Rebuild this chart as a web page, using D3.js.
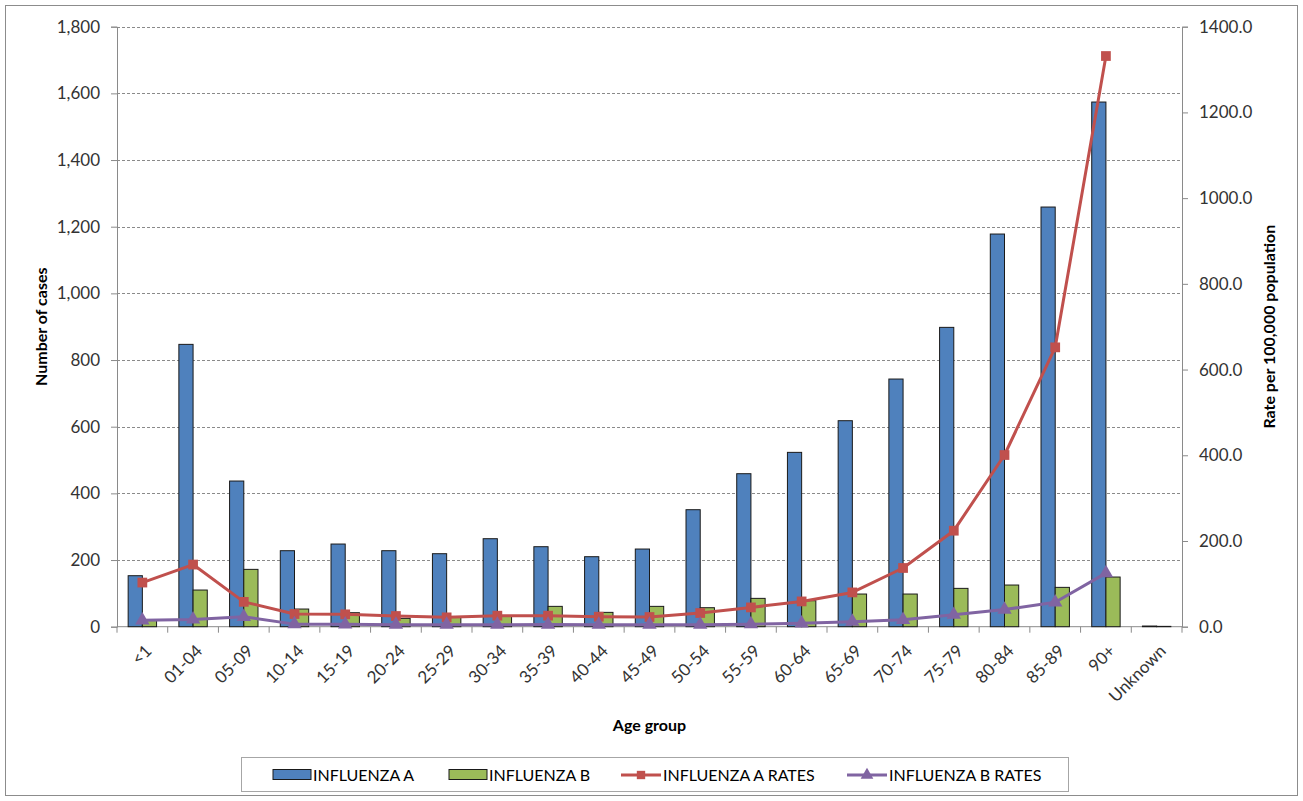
<!DOCTYPE html>
<html>
<head>
<meta charset="utf-8">
<script src="https://cdn.jsdelivr.net/npm/d3@7"></script>
<style>
  body { margin: 0; background: #fff; }
  text { font-family: Lato, "Open Sans", sans-serif; }
</style>
</head>
<body>
<svg id="chart" width="1303" height="801"></svg>
<script>
// Influenza cases and rates per 100,000 by age group
const ageGroups = ["<1","01-04","05-09","10-14","15-19","20-24","25-29","30-34","35-39","40-44",
  "45-49","50-54","55-59","60-64","65-69","70-74","75-79","80-84","85-89","90+","Unknown"];
const influenzaA = [153,847,437,228,248,228,219,264,240,210,233,351,459,523,618,743,898,1178,1259,1574,2];
const influenzaB = [20,110,172,53,42,25,28,33,61,43,61,57,85,78,98,98,115,125,118,149,1];
const influenzaARates = [103,145,58,29.6,28.8,25,21.8,25.7,25.7,23.3,22.6,31.9,45,59,80,137,224,400.6,651.8,1331.6,null];
const influenzaBRates = [15,17,23,6,5.5,4.7,4.7,4.7,5,4.7,4.7,4.7,6,7.8,11.7,16.3,28,40,57,125,null];
const casesTicks = d3.range(0, 1801, 200);
const rateTicks = d3.range(0, 1401, 200);
const seriesNames = ["INFLUENZA A","INFLUENZA B","INFLUENZA A RATES","INFLUENZA B RATES"];

const colors = { A: "#4F81BD", B: "#9BBB59", AR: "#C0504D", BR: "#8064A2" };

const svg = d3.select("#chart");
const W = 1303, H = 801;
const plot = { left: 117, right: 1182, top: 26.7, bottom: 626.7 };

// outer frame
svg.append("rect").attr("x", 5.5).attr("y", 5.5).attr("width", W - 11).attr("height", H - 11)
  .attr("fill", "#fff").attr("stroke", "#8c8c8c").attr("stroke-width", 1);

const x = d3.scaleBand().domain(ageGroups).range([plot.left, plot.right]).padding(0);
const xSub = d3.scaleBand().domain(["A","B"]).range([0, x.bandwidth()]).paddingInner(0).paddingOuter(0.785);
const yL = d3.scaleLinear().domain([0, 1800]).range([plot.bottom, plot.top]);
const yR = d3.scaleLinear().domain([0, 1400]).range([plot.bottom, plot.top]);

// gridlines
svg.append("g").selectAll("line").data(casesTicks.filter(d => d > 0)).join("line")
  .attr("x1", plot.left).attr("x2", plot.right)
  .attr("y1", d => Math.round(yL(d)) + 0.5).attr("y2", d => Math.round(yL(d)) + 0.5)
  .attr("stroke", "#8a8a8a").attr("stroke-width", 1).attr("stroke-dasharray", "3,2");

// left axis
const axL = svg.append("g").attr("transform", `translate(${plot.left},0)`)
  .call(d3.axisLeft(yL).tickValues(casesTicks).tickFormat(d3.format(",")).tickSize(6).tickPadding(11));
// right axis
const axR = svg.append("g").attr("transform", `translate(${plot.right},0)`)
  .call(d3.axisRight(yR).tickValues(rateTicks).tickFormat(d3.format(".1f")).tickSize(6).tickPadding(11));
// bottom axis (ticks at category boundaries)
const axB = svg.append("g").attr("transform", `translate(0,${plot.bottom})`);
axB.append("line").attr("x1", plot.left).attr("x2", plot.right).attr("y1", 0).attr("y2", 0)
  .attr("stroke", "#8a8a8a");
axB.selectAll("line.tk").data(ageGroups.concat(["_end"])).join("line").attr("class", "tk")
  .attr("x1", (d, i) => plot.left + i * x.step()).attr("x2", (d, i) => plot.left + i * x.step())
  .attr("y1", 0).attr("y2", 6).attr("stroke", "#8a8a8a");
axB.selectAll("text").data(ageGroups).join("text")
  .attr("transform", d => `translate(${x(d) + x.bandwidth() / 2 + 2},${17}) rotate(-45)`)
  .attr("text-anchor", "end").attr("dy", "0.7em")
  .attr("font-size", 17).attr("fill", "#333").text(d => d);

[axL, axR].forEach(ax => {
  ax.select(".domain").attr("stroke", "#8a8a8a");
  ax.selectAll(".tick line").attr("stroke", "#8a8a8a");
  ax.selectAll(".tick text").attr("font-size", 17).attr("fill", "#333")
    .style("font-family", "Lato, 'Open Sans', sans-serif");
});

// bars
const groups = svg.append("g").selectAll("g").data(ageGroups).join("g")
  .attr("transform", d => `translate(${x(d)},0)`);
groups.append("rect")
  .attr("x", xSub("A")).attr("width", xSub.bandwidth())
  .attr("y", (d, i) => yL(influenzaA[i])).attr("height", (d, i) => plot.bottom - yL(influenzaA[i]))
  .attr("fill", colors.A).attr("stroke", "#1a1a1a").attr("stroke-width", 1);
groups.append("rect")
  .attr("x", xSub("B")).attr("width", xSub.bandwidth())
  .attr("y", (d, i) => yL(influenzaB[i])).attr("height", (d, i) => plot.bottom - yL(influenzaB[i]))
  .attr("fill", colors.B).attr("stroke", "#1a1a1a").attr("stroke-width", 1);

// rate lines
const cx = d => x(d) + x.bandwidth() / 2;
function rateLine(values, color, marker) {
  const pts = ageGroups.map((g, i) => ({ g, v: values[i] })).filter(p => p.v != null);
  const line = d3.line().x(p => cx(p.g)).y(p => yR(p.v));
  svg.append("path").datum(pts).attr("d", line).attr("fill", "none")
    .attr("stroke", color).attr("stroke-width", 3).attr("stroke-linejoin", "round");
  svg.append("g").selectAll("path").data(pts).join("path")
    .attr("transform", p => `translate(${cx(p.g)},${yR(p.v)})`)
    .attr("d", d3.symbol().type(marker).size(marker === d3.symbolSquare ? 95 : 90)())
    .attr("fill", color);
}
rateLine(influenzaARates, colors.AR, d3.symbolSquare);
rateLine(influenzaBRates, colors.BR, d3.symbolTriangle);

// axis titles
svg.append("text").attr("transform", `translate(47,${(plot.top + plot.bottom) / 2}) rotate(-90)`)
  .attr("text-anchor", "middle").attr("font-size", 16).attr("font-weight", "bold").attr("fill", "#000")
  .text("Number of cases");
svg.append("text").attr("transform", `translate(1275,${(plot.top + plot.bottom) / 2}) rotate(-90)`)
  .attr("text-anchor", "middle").attr("font-size", 16).attr("font-weight", "bold").attr("fill", "#000")
  .text("Rate per 100,000 population");
svg.append("text").attr("x", (plot.left + plot.right) / 2).attr("y", 731)
  .attr("text-anchor", "middle").attr("font-size", 16).attr("font-weight", "bold").attr("fill", "#000")
  .text("Age group");

// legend
const legend = svg.append("g");
legend.append("rect").attr("x", 241.5).attr("y", 757.5).attr("width", 827).attr("height", 34)
  .attr("fill", "#fff").attr("stroke", "#a6a6a6");
const items = [
  { name: seriesNames[0], type: "bar", color: colors.A, sx: 273, tx: 313 },
  { name: seriesNames[1], type: "bar", color: colors.B, sx: 449, tx: 489 },
  { name: seriesNames[2], type: "line", color: colors.AR, sx: 621, tx: 663, marker: d3.symbolSquare },
  { name: seriesNames[3], type: "line", color: colors.BR, sx: 847, tx: 889, marker: d3.symbolTriangle }
];
items.forEach(it => {
  if (it.type === "bar") {
    legend.append("rect").attr("x", it.sx).attr("y", 769.5).attr("width", 38).attr("height", 10)
      .attr("fill", it.color).attr("stroke", "#1a1a1a");
  } else {
    legend.append("line").attr("x1", it.sx).attr("x2", it.sx + 40).attr("y1", 775).attr("y2", 775)
      .attr("stroke", it.color).attr("stroke-width", 3);
    legend.append("path").attr("transform", `translate(${it.sx + 20},775)`)
      .attr("d", d3.symbol().type(it.marker).size(70)()).attr("fill", it.color);
  }
  legend.append("text").attr("x", it.tx).attr("y", 781).attr("font-size", 16).attr("fill", "#000")
    .text(it.name);
});
</script>
</body>
</html>
